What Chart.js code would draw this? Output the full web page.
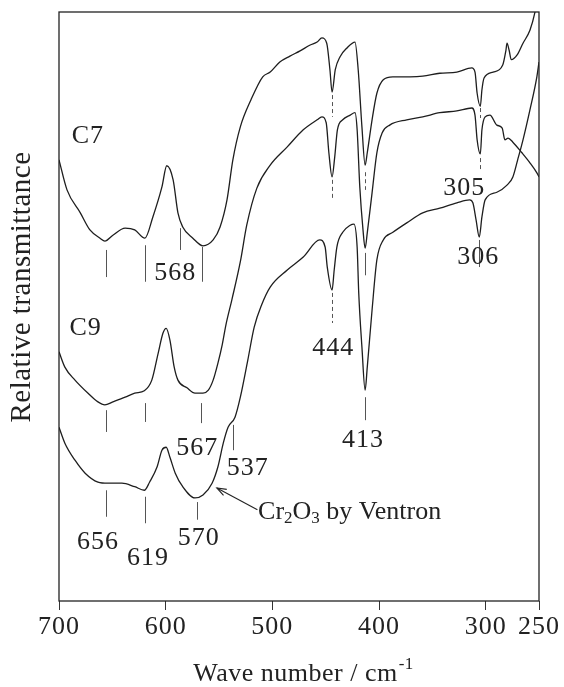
<!DOCTYPE html>
<html lang="en">
<head>
  <meta charset="UTF-8">
  <title>IR spectra</title>
  <script src="https://cdn.jsdelivr.net/npm/chart.js"></script>
  <style>
    body { margin: 0; background: #fff; }
    #wrap { width: 564px; height: 687px; }
  </style>
</head>
<body>
<div id="wrap"><canvas id="irChart"></canvas></div>
<script>
// wave numbers (cm-1) and relative transmittance
const c7Wave = [700,692.5,680,671,661.5,657,649.5,638,629,619.5,612,603.5,599,593,588.5,584,574.5,565,555.5,549,542.5,537,530,520,509,502,493,483.5,474,464.5,458,453.5,449,446,444,441,436.5,430,422.5,419.5,416,413,411,406.5,402,396,387,371,359,343,327,313,310,308,305,303.5,301.5,293,284,281,280,278,276,270.5,265,258.5,254,250];
const c7Value = [74.9,69.8,65.9,63.0,61.6,61.1,62.1,63.3,63.0,61.6,65.2,70.3,73.9,71.5,65.9,63.5,61.6,60.3,61.3,63.5,68.1,74.9,80.5,85.1,89.0,89.8,91.5,92.5,93.4,94.4,94.9,95.6,94.7,90.2,86.4,90.2,92.4,93.9,94.9,90.2,80.5,74.0,76.1,81.7,86.2,88.5,89.0,89.0,89.1,89.6,89.8,90.5,89.8,86.2,84.0,86.8,88.8,89.8,91.0,93.5,94.7,93.5,91.9,92.7,94.7,96.9,99.8,104];

const c9Wave = [700,694.5,685,673,663.5,657,649.5,638,629,620,613,607,602.5,599.5,596,592,588.5,580,572.5,565,560,555.5,551,547,543.5,538,530,524,514.5,502,486,471,458,453.5,449.5,447,444,441.5,439,434,427,422.5,420.5,418,415,413,411,406.5,402,397,390,374,359,343,327,313,310,308,305,303.5,300.5,296,289.5,284.5,282,279,274.5,266,258.5,252,250];
const c9Value = [42.3,39.7,37.5,35.3,33.8,33.3,33.8,34.6,35.3,35.7,37.5,42.1,45.5,46.3,44.3,39.7,37.5,36.2,35.3,35.3,35.8,37.5,40.4,43.5,46.9,51.1,57.6,63.8,70.1,74.0,77.1,80.0,81.7,82.2,81.2,76.1,72.0,75.4,80.0,81.7,82.5,82.9,80.0,70.3,63.0,59.9,62.5,69.3,76.1,79.5,80.8,81.7,82.2,82.9,83.2,83.7,82.5,78.3,75.9,80.0,82.2,82.5,80.8,80.3,78.3,78.6,77.9,76.1,74.4,72.7,72.0];

const crWave = [700,694.5,685,675.5,663.5,654,641,629,620,615,608,603.5,599.5,596,591,584,572.5,565,556.5,551,546,541.5,535,530,523,517,510,502,486,471,455.5,450.5,448.5,444,442,439.5,434,427,423.5,420.5,419,416,413,411,406.5,402,396,387,374,359,343,327,315,312,309,306,303.5,300.5,289.5,280,274.5,270,265,258.5,252,250];
const crValue = [29.5,26.8,23.9,21.7,20.2,20.0,20.0,19.4,18.8,20.2,22.8,25.6,26.1,24.4,21.7,19.4,17.5,18.0,20.0,22.8,26.8,29.5,31.2,34.6,40.9,46.5,50.3,53.3,56.2,58.4,61.3,60.1,56.7,52.8,56.2,60.1,62.6,63.8,64.0,60.1,52.3,43.1,35.8,39.7,49.4,57.9,61.3,62.6,64.2,65.9,66.7,67.6,68.1,67.6,64.7,61.8,65.2,68.1,69.4,70.6,72.0,74.9,78.3,83.4,89.0,91.5];

const tickValues = [700, 600, 500, 400, 300, 250];

// peak marker lines: wave number, upper and lower transmittance, dashed
const peakMarks = [
  [656, 59.6, 55.0], [619, 60.4, 54.2], [587, 63.3, 59.6], [566, 60.1, 54.2],
  [444, 85.9, 82.2, true], [413, 72.8, 69.8, true], [305, 83.7, 82.0, true],
  [656, 32.4, 28.7], [619, 33.6, 30.4], [567, 33.6, 30.2],
  [444, 71.5, 68.1, true], [413, 59.1, 55.3], [305, 75.2, 72.9, true],
  [656, 18.8, 14.3], [619, 17.7, 13.2], [571, 16.8, 13.8], [537, 29.9, 25.6],
  [444, 52.3, 47.2, true], [413, 34.6, 30.7], [306, 61.3, 56.7]
];

// text labels: text, wave number, transmittance (centre)
const peakLabels = [
  ['C7', 673, 79.0], ['C9', 675, 46.3],
  ['568', 591, 55.7], ['567', 570.5, 26.0], ['537', 523, 22.6],
  ['656', 663.5, 10.0], ['619', 616.5, 7.3], ['570', 569, 10.7],
  ['444', 443, 43.0], ['413', 415, 27.3], ['305', 320, 70.1], ['306', 307, 58.4]
];

const FONT = '"Liberation Serif", "Times New Roman", serif';

function pts(w, v) {
  return w.map((x, i) => ({ x: x, y: v[i] }));
}

const spacing = {
  id: 'spacing',
  beforeDraw(chart) { chart.ctx.letterSpacing = '1px'; }
};

const overlay = {
  id: 'overlay',
  afterDatasetsDraw(chart) {
    const { ctx, chartArea: a, scales: { x, y } } = chart;
    ctx.save();
    ctx.strokeStyle = '#222';
    ctx.lineWidth = 1.3;
    ctx.strokeRect(a.left, a.top, a.right - a.left, a.bottom - a.top);

    // marker lines
    ctx.strokeStyle = '#555';
    ctx.lineWidth = 1;
    peakMarks.forEach(m => {
      ctx.setLineDash(m[3] ? [4, 3] : []);
      const px = Math.round(x.getPixelForValue(m[0])) + 0.5;
      ctx.beginPath();
      ctx.moveTo(px, y.getPixelForValue(m[1]));
      ctx.lineTo(px, y.getPixelForValue(m[2]));
      ctx.stroke();
    });
    ctx.setLineDash([]);

    ctx.fillStyle = '#222';
    ctx.font = '26px ' + FONT;
    ctx.textAlign = 'center';
    ctx.textBaseline = 'middle';
    peakLabels.forEach(l => {
      ctx.fillText(l[0], x.getPixelForValue(l[1]), y.getPixelForValue(l[2]));
    });

    // Cr2O3 by Ventron with arrow
    let tx = x.getPixelForValue(513.4);
    const ty = y.getPixelForValue(15.1);
    ctx.textAlign = 'left';
    ctx.letterSpacing = '0px';
    const parts = [['Cr', 26, 0], ['2', 17, 6], ['O', 26, 0], ['3', 17, 6], [' by Ventron', 26, 0]];
    parts.forEach(p => {
      ctx.font = p[1] + 'px ' + FONT;
      ctx.fillText(p[0], tx, ty + p[2]);
      tx += ctx.measureText(p[0]).width;
    });
    const ax0 = x.getPixelForValue(514), ay0 = y.getPixelForValue(15.5);
    const ax1 = x.getPixelForValue(552), ay1 = y.getPixelForValue(19.2);
    ctx.strokeStyle = '#222';
    ctx.lineWidth = 1.1;
    ctx.beginPath();
    ctx.moveTo(ax0, ay0);
    ctx.lineTo(ax1, ay1);
    ctx.stroke();
    const ang = Math.atan2(ay1 - ay0, ax1 - ax0);
    ctx.beginPath();
    ctx.moveTo(ax1 - 10 * Math.cos(ang - 0.35), ay1 - 10 * Math.sin(ang - 0.35));
    ctx.lineTo(ax1, ay1);
    ctx.lineTo(ax1 - 10 * Math.cos(ang + 0.35), ay1 - 10 * Math.sin(ang + 0.35));
    ctx.stroke();

    // axis titles
    ctx.letterSpacing = '0.5px';
    const main = 'Wave number / cm';
    ctx.font = '26px ' + FONT;
    const w1 = ctx.measureText(main).width;
    ctx.font = '17px ' + FONT;
    const w2 = ctx.measureText('-1').width;
    let sx = (a.left + a.right) / 2 + 4 - (w1 + w2) / 2;
    ctx.textBaseline = 'alphabetic';
    ctx.font = '26px ' + FONT;
    ctx.fillText(main, sx, chart.height - 6);
    ctx.font = '17px ' + FONT;
    ctx.fillText('-1', sx + w1 + 1, chart.height - 18);

    ctx.translate(22, 287);
    ctx.rotate(-Math.PI / 2);
    ctx.font = '29px ' + FONT;
    ctx.textAlign = 'center';
    ctx.textBaseline = 'middle';
    ctx.fillText('Relative transmittance', 0, 0);
    ctx.restore();
  }
};

const line = { borderColor: '#1e1e1e', borderWidth: 1.3, pointRadius: 0, fill: false, cubicInterpolationMode: 'monotone' };

new Chart(document.getElementById('irChart'), {
  type: 'line',
  data: {
    datasets: [
      Object.assign({ label: 'C7', data: pts(c7Wave, c7Value) }, line),
      Object.assign({ label: 'C9', data: pts(c9Wave, c9Value) }, line),
      Object.assign({ label: 'Cr2O3 by Ventron', data: pts(crWave, crValue) }, line)
    ]
  },
  options: {
    responsive: true,
    maintainAspectRatio: false,
    animation: false,
    layout: { padding: { left: 59, right: 25, top: 12, bottom: 0 } },
    plugins: { legend: { display: false }, tooltip: { enabled: false } },
    scales: {
      x: {
        type: 'linear',
        min: 250,
        max: 700,
        reverse: true,
        afterBuildTicks: s => { s.ticks = tickValues.map(v => ({ value: v })); },
        afterFit: s => { s.height = 86; },
        grid: { drawOnChartArea: false, drawTicks: true, tickLength: 9, color: '#333', lineWidth: 1 },
        border: { display: false },
        ticks: { color: '#222', font: { family: FONT, size: 26 }, padding: 2, maxRotation: 0, autoSkip: false }
      },
      y: { display: false, min: 0, max: 100 }
    }
  },
  plugins: [spacing, overlay]
});
</script>
</body>
</html>
